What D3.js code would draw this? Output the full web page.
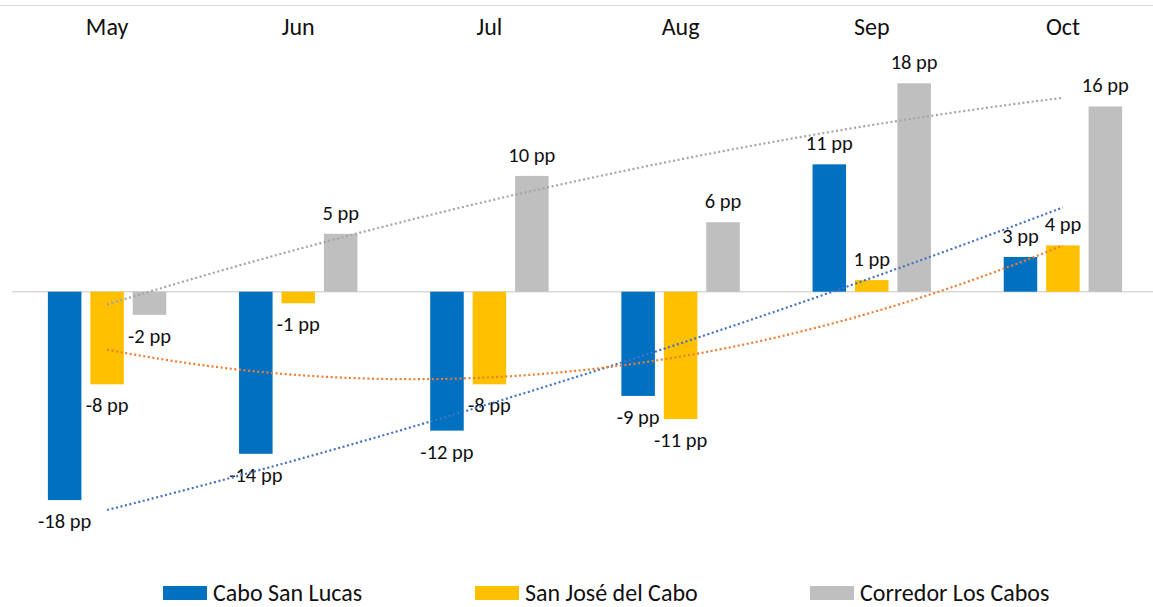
<!DOCTYPE html>
<html>
<head>
<meta charset="utf-8">
<script src="https://cdn.jsdelivr.net/npm/d3@7"></script>
<style>
  body { margin: 0; background: #fff; }
  svg { display: block; font-family: Carlito, Calibri, Lato, "Noto Sans", sans-serif; }
</style>
</head>
<body>
<div id="chart"></div>
<script>
// categories and series (percentage-point change)
const months = ["May", "Jun", "Jul", "Aug", "Sep", "Oct"];
const seriesNames = ["Cabo San Lucas", "San José del Cabo", "Corredor Los Cabos"];
const caboSanLucas = [-18, -14, -12, -9, 11, 3];
const sanJose = [-8, -1, -8, -11, 1, 4];
const corredor = [-2, 5, 10, 6, 18, 16];

const BAR_COLORS = ["#0070C0", "#FFC000", "#BFBFBF"];
const TREND_COLORS = ["#4472C4", "#ED7D31", "#A5A5A5"];

const W = 1153, H = 607;
const values = [caboSanLucas, sanJose, corredor];

// polynomial (order 2) least squares fit, like the excel trendline
function polyFit(ys) {
  var xs = ys.map(function(d, i) { return i; });
  var mx = d3.mean(xs), my = d3.mean(ys);
  var t = xs.map(function(x) { return x - mx; });
  var mt2 = d3.mean(t, function(v) { return v * v; });
  var u = t.map(function(v) { return v * v - mt2; });
  var b = d3.sum(t, function(v, i) { return v * (ys[i] - my); }) / d3.sum(t, function(v) { return v * v; });
  var c = d3.sum(u, function(v, i) { return v * (ys[i] - my); }) / d3.sum(u, function(v) { return v * v; });
  return function(x) { var tt = x - mx; return my + b * tt + c * (tt * tt - mt2); };
}

var svg = d3.select("#chart").append("svg")
  .attr("width", W).attr("height", H);

var x0 = d3.scaleBand().domain(months).range([11.5, 1158.5]).padding(0);
var groupW = 118.4;
var x1 = d3.scaleBand().domain(d3.range(3)).range([-groupW / 2, groupW / 2]).paddingInner(0.21).paddingOuter(0);
var y = d3.scaleLinear().domain([-18, 18]).range([500.1, 83.3]);
var xi = d3.scaleLinear().domain([0, months.length - 1])
  .range([x0(months[0]) + x0.bandwidth() / 2, x0(months[months.length - 1]) + x0.bandwidth() / 2]);

// top border and zero line
svg.append("line").attr("x1", 0).attr("x2", W).attr("y1", 5.5).attr("y2", 5.5)
  .attr("stroke", "#D9D9D9").attr("stroke-width", 1.2);
svg.append("line").attr("x1", 12).attr("x2", W).attr("y1", y(0)).attr("y2", y(0))
  .attr("stroke", "#D9D9D9").attr("stroke-width", 1.5);

// month labels on top
svg.append("g").selectAll("text").data(months).join("text")
  .attr("x", function(d) { return x0(d) + x0.bandwidth() / 2; })
  .attr("y", 35)
  .attr("text-anchor", "middle")
  .attr("font-size", 24)
  .attr("fill", "#111")
  .text(function(d) { return d; });

// bars
var groups = svg.append("g").selectAll("g").data(months).join("g")
  .attr("transform", function(d) { return "translate(" + (x0(d) + x0.bandwidth() / 2) + ",0)"; });

groups.selectAll("rect").data(function(d, i) { return values.map(function(s, k) { return { k: k, v: s[i] }; }); })
  .join("rect")
  .attr("x", function(d) { return x1(d.k); })
  .attr("width", x1.bandwidth())
  .attr("y", function(d) { return y(Math.max(0, d.v)); })
  .attr("height", function(d) { return Math.abs(y(d.v) - y(0)); })
  .attr("fill", function(d) { return BAR_COLORS[d.k]; });

// trendlines
var line = d3.line().x(function(d) { return xi(d[0]); }).y(function(d) { return y(d[1]); });
values.forEach(function(s, k) {
  var f = polyFit(s);
  var pts = d3.range(0, 5.001, 0.05).map(function(t) { return [t, f(t)]; });
  svg.append("path").attr("d", line(pts))
    .attr("fill", "none")
    .attr("stroke", TREND_COLORS[k])
    .attr("stroke-width", 2.2)
    .attr("stroke-dasharray", "2,2.6");
});

// data labels
groups.selectAll("text").data(function(d, i) { return values.map(function(s, k) { return { k: k, v: s[i] }; }); })
  .join("text")
  .attr("x", function(d) { return x1(d.k) + x1.bandwidth() / 2; })
  .attr("y", function(d) { return d.v >= 0 ? y(d.v) - 14 : y(d.v) + 28; })
  .attr("text-anchor", "middle")
  .attr("font-size", 20.5)
  .attr("fill", "#111")
  .text(function(d) { return d.v + " pp"; });

// legend
var legendX = [163, 475, 810];
var legend = svg.append("g").selectAll("g").data(seriesNames).join("g")
  .attr("transform", function(d, i) { return "translate(" + legendX[i] + ",586)"; });
legend.append("rect").attr("width", 44).attr("height", 14)
  .attr("fill", function(d, i) { return BAR_COLORS[i]; });
legend.append("text").attr("x", 50).attr("y", 14.5)
  .attr("font-size", 24).attr("fill", "#111")
  .text(function(d) { return d; });
</script>
</body>
</html>
